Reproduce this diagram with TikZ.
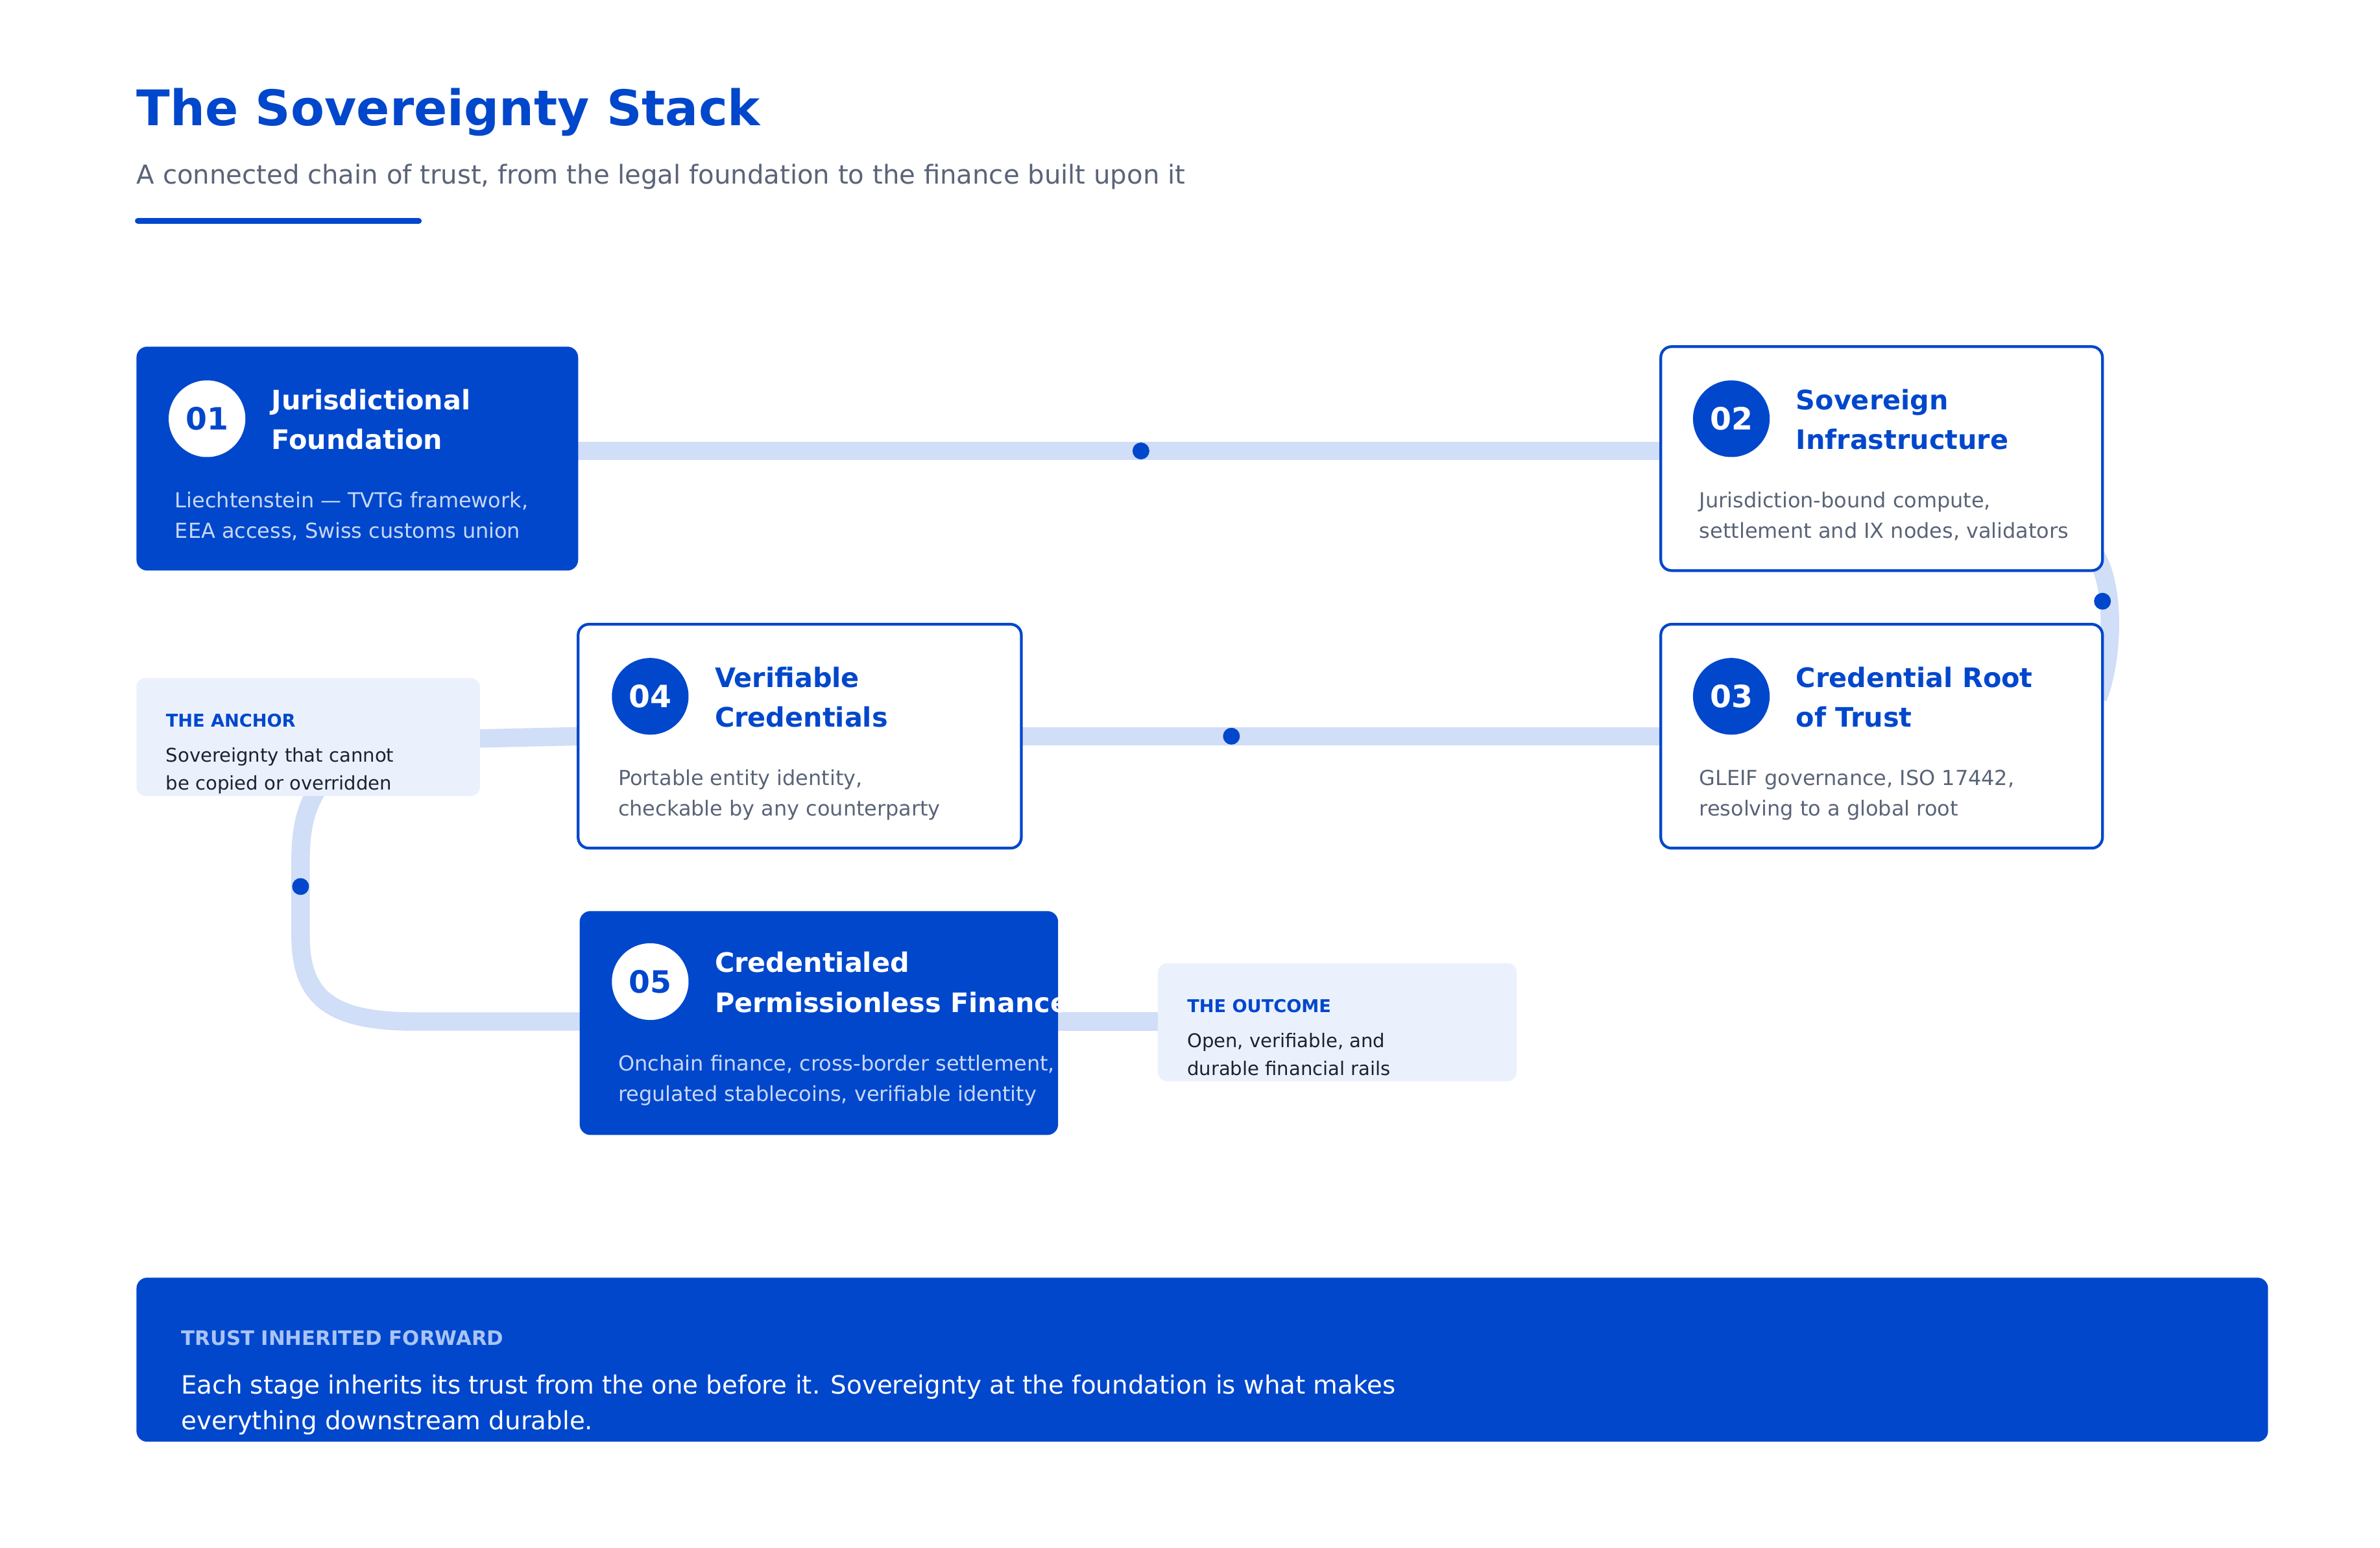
\documentclass[tikz,border=0pt]{standalone}
\usepackage{fontspec}
\setmainfont{DejaVu Sans}
\definecolor{brand}{HTML}{0047CC}
\definecolor{sub}{HTML}{5A6478}
\definecolor{lane}{HTML}{D0DEF7}
\definecolor{callout}{HTML}{EBF1FC}
\definecolor{ink}{HTML}{1A2233}
\definecolor{pale}{HTML}{C8D8F5}
\definecolor{bannerlbl}{HTML}{A9C4F5}
\newcommand{\fs}[1]{\fontsize{#1}{#1}\selectfont}
\begin{document}
\begin{tikzpicture}[x=1pt,y=-1pt,
  txt/.style={anchor=base west,inner sep=0pt},
  solid box/.style={fill=brand,rounded corners=7pt},
  line box/.style={fill=white,draw=brand,line width=1.8pt,rounded corners=7pt},
  callbox/.style={fill=callout,rounded corners=6pt},
  lanepath/.style={draw=lane,line width=12pt},
  dot/.style={circle,fill=brand,inner sep=0pt,minimum size=11pt},
  numw/.style={circle,fill=white,inner sep=0pt,minimum size=50pt,text=brand,font=\fs{20}\bfseries},
  numb/.style={circle,fill=brand,inner sep=0pt,minimum size=50pt,text=white,font=\fs{20}\bfseries},
  ttlw/.style={txt,text=white,font=\fs{17.5}\bfseries},
  ttlb/.style={txt,text=brand,font=\fs{17.5}\bfseries},
  dsc/.style={txt,font=\fs{13.5}},
]
\useasboundingbox[fill=white] (0,0) rectangle (1552,1009);
% header
\node[txt,text=brand,font=\fs{32}\bfseries] (title) at (89,82) {The Sovereignty Stack};
\node[txt,text=sub,font=\fs{17}] (subtitle) at (89,120) {A connected chain of trust, from the legal foundation to the finance built upon it};
\draw[brand,line width=4pt,line cap=round] (90,144) -- (273,144);
% lanes
\coordinate (l1a) at (377,294); \coordinate (l1b) at (1083,294);
\draw[lanepath] (l1a) -- (l1b);
\draw[lanepath] (1365,360) .. controls (1380,380) and (1378,430) .. (1368,455);
\coordinate (l3a) at (666,480); \coordinate (l3b) at (1083,480);
\draw[lanepath] (l3a) -- (l3b);
\draw[lanepath] (378,480) -- (290,482) .. controls (220,486) and (196,510) .. (196,560)
  -- (196,610) .. controls (196,650) and (215,666) .. (270,666) -- (378,666);
\draw[lanepath] (690,666) -- (755,666);
\node[dot] (d1) at (744,294) {};
\node[dot] (d2) at (1371,392) {};
\node[dot] (d3) at (803,480) {};
\node[dot] (d4) at (196,578) {};
% callouts
\fill[callbox] (89,442) rectangle (313,519);
\node[txt,text=brand,font=\fs{11.5}\bfseries] (anc) at (108,474) {THE ANCHOR};
\node[txt,text=ink,font=\fs{12.3}] (anc1) at (108,497) {Sovereignty that cannot};
\node[txt,text=ink,font=\fs{12.3}] (anc2) at (108,515) {be copied or overridden};
\fill[callbox] (755,628) rectangle (989,705);
\node[txt,text=brand,font=\fs{11.5}\bfseries] (out) at (774,660) {THE OUTCOME};
\node[txt,text=ink,font=\fs{12.3}] (out1) at (774,683) {Open, verifiable, and};
\node[txt,text=ink,font=\fs{12.3}] (out2) at (774,701) {durable financial rails};
% box 01
\fill[solid box] (89,226) rectangle (377,372);
\node[numw] (n1) at (135,273) {01};
\node[ttlw] at (177,267) {Jurisdictional};
\node[ttlw] at (177,293) {Foundation};
\node[dsc,text=pale] at (114,331) {Liechtenstein — TVTG framework,};
\node[dsc,text=pale] at (114,351) {EEA access, Swiss customs union};
% box 02
\draw[line box] (1083,226) rectangle (1371,372);
\node[numb] (n2) at (1129,273) {02};
\node[ttlb] at (1171,267) {Sovereign};
\node[ttlb] at (1171,293) {Infrastructure};
\node[dsc,text=sub] at (1108,331) {Jurisdiction-bound compute,};
\node[dsc,text=sub] at (1108,351) {settlement and IX nodes, validators};
% box 03
\draw[line box] (1083,407) rectangle (1371,553);
\node[numb] (n3) at (1129,454) {03};
\node[ttlb] at (1171,448) {Credential Root};
\node[ttlb] at (1171,474) {of Trust};
\node[dsc,text=sub] at (1108,512) {GLEIF governance, ISO 17442,};
\node[dsc,text=sub] at (1108,532) {resolving to a global root};
% box 04
\draw[line box] (377,407) rectangle (666,553);
\node[numb] (n4) at (424,454) {04};
\node[ttlb] at (466,448) {Verifiable};
\node[ttlb] at (466,474) {Credentials};
\node[dsc,text=sub] at (403,512) {Portable entity identity,};
\node[dsc,text=sub] at (403,532) {checkable by any counterparty};
% box 05
\fill[solid box] (378,594) rectangle (690,740);
\node[numw] (n5) at (424,640) {05};
\node[ttlw] at (466,634) {Credentialed};
\node[ttlw] at (466,660) {Permissionless Finance};
\node[dsc,text=pale] at (403,698) {Onchain finance, cross-border settlement,};
\node[dsc,text=pale] at (403,718) {regulated stablecoins, verifiable identity};
% banner
\fill[solid box] (89,833) rectangle (1479,940);
\node[txt,text=bannerlbl,font=\fs{13}\bfseries] (bl) at (118,877) {TRUST INHERITED FORWARD};
\node[txt,text=white,font=\fs{16.4}] (b1) at (118,909) {Each stage inherits its trust from the one before it. Sovereignty at the foundation is what makes};
\node[txt,text=white,font=\fs{16.4}] (b2) at (118,932) {everything downstream durable.};
\end{tikzpicture}
\end{document}
